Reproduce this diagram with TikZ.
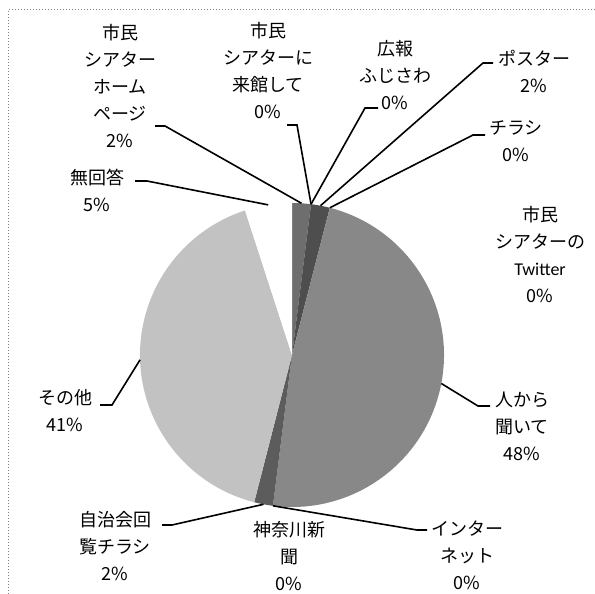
\documentclass[tikz,border=0pt]{standalone}
\usepackage{fontspec}
\setmainfont{Carlito}
\newfontfamily\jp{Noto Sans CJK JP}
\newfontfamily\lat{Carlito}
\usepackage{xcolor}
\usepackage{tikz}

\definecolor{sliceHP}{HTML}{6E6E6E}
\definecolor{slicePoster}{HTML}{4E4E4E}
\definecolor{sliceHito}{HTML}{888888}
\definecolor{sliceJichi}{HTML}{5C5C5C}
\definecolor{sliceOther}{HTML}{C2C2C2}

\tikzset{
  lbl/.style={align=center,inner sep=0pt,font=\fontsize{18}{27}\selectfont\jp},
  leader/.style={line width=1.6pt,black}
}

\begin{document}
\begin{tikzpicture}[x=1pt,y=-1pt]
    \useasboundingbox (0,0) rectangle (595,594);

    % Draw the dotted frame
    \draw[gray,dotted,line width=1pt] (8,594) -- (8,10) -- (595,10);

    % Draw the slices, clockwise from the top
    \coordinate (ctr) at (292,355);
    \foreach \a/\b/\c in {0/7.2/sliceHP, 7.2/14.4/slicePoster, 14.4/187.2/sliceHito,
                          187.2/194.4/sliceJichi, 194.4/342/sliceOther, 342/360/white}
        \fill[\c] (ctr) -- ++(\a-90:152) arc[start angle=\a-90,end angle=\b-90,radius=152] -- cycle;

    % Draw the labels
    \node[lbl] (hp)       at (120,86)    {市民\\シアター\\ホーム\\ページ\\2\%};
    \node[lbl] (raikan)   at (268,71)    {市民\\シアターに\\来館して\\0\%};
    \node[lbl] (kouhou)   at (395,75.5)  {広報\\ふじさわ\\0\%};
    \node[lbl] (poster)   at (534,71)    {ポスター\\2\%};
    \node[lbl] (chirashi) at (516,141.5) {チラシ\\0\%};
    \node[lbl] (twitter)  at (540,255)   {市民\\シアターの\\{\lat Twitter}\\0\%};
    \node[lbl] (hito)     at (522,426.5) {人から\\聞いて\\48\%};
    \node[lbl] (internet) at (467,555)   {インター\\ネット\\0\%};
    \node[lbl] (kanagawa) at (289,556)   {神奈川新\\聞\\0\%};
    \node[lbl] (jichikai) at (115,546.5) {自治会回\\覧チラシ\\2\%};
    \node[lbl] (sonota)   at (65,411)    {その他\\41\%};
    \node[lbl] (mukaitou) at (97,190)    {無回答\\5\%};

    % Draw the leader lines
    \foreach \n/\ang/\ex/\ey/\fx in {hp/3.6/165/126/155, raikan/7.2/297/125/287,
                                      kouhou/7.2/365/108/378, poster/10.8/483/63/493,
                                      chirashi/14.4/473/135/485, hito/100.8/478/406/490,
                                      internet/187.2/417/530/427, jichikai/190.8/172/525/162,
                                      sonota/268.2/112/405/100, mukaitou/351/147/181/135}
    {
        \coordinate (\n-pie) at ([shift={(\ang-90:152)}]ctr);
        \coordinate (\n-bend) at (\ex,\ey);
        \coordinate (\n-end) at (\fx,\ey);
        \draw[leader] (\n-pie) -- (\n-bend) -- (\n-end);
    }
\end{tikzpicture}
\end{document}
